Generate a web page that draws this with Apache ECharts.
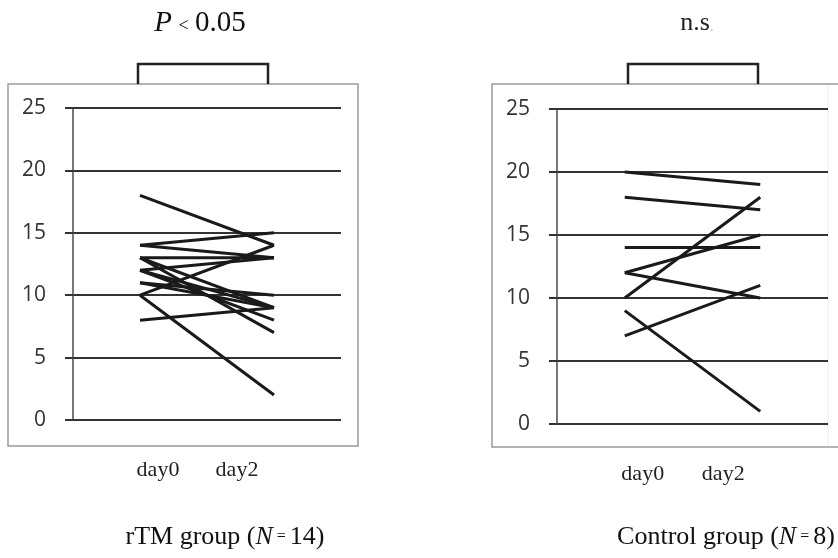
<!DOCTYPE html>
<html>
<head>
<meta charset="utf-8">
<script src="https://cdn.jsdelivr.net/npm/echarts@6/dist/echarts.min.js"></script>
<style>html,body{margin:0;padding:0;background:#fff}#c{width:838px;height:558px}</style>
</head>
<body>
<div id="c"></div>
<script>
// ---- data ----
const categories = ['day0', 'day2'];
const yTicks = [0, 5, 10, 15, 20, 25];
// rTM group (N = 14)
const rtmDay0 = [18, 14, 14, 13, 13, 13, 12, 12, 12, 11, 11, 10, 10, 8];
const rtmDay2 = [14, 15, 13, 13, 9, 7, 13, 9, 8, 10, 9, 14, 2, 9];
// Control group (N = 8)
const ctrlDay0 = [20, 18, 14, 12, 12, 10, 9, 7];
const ctrlDay2 = [19, 17, 14, 15, 10, 18, 1, 11];

const chart = echarts.init(document.getElementById('c'), null, {renderer: 'canvas'});

function yAxisCfg(gi) {
  return {
    type: 'value', gridIndex: gi, min: yTicks[0], max: yTicks[yTicks.length - 1], interval: 5,
    axisLine: {show: true, lineStyle: {color: '#4a4a4a', width: 1.5}},
    axisTick: {show: true, length: 8, lineStyle: {color: '#333', width: 2}},
    splitLine: {show: true, lineStyle: {color: '#333', width: 2}},
    axisLabel: {fontFamily: 'Open Sans', fontSize: 21, color: '#333', margin: 27}
  };
}
function xAxisCfg(gi) {
  return {
    type: 'category', gridIndex: gi, data: categories, boundaryGap: true,
    axisLine: {show: false}, axisTick: {show: false}, splitLine: {show: false},
    axisLabel: {
      margin: 39, interval: 0,
      formatter: (v, i) => (i === 0 ? '{a|' + v + '}' : '{b|' + v + '}'),
      rich: {
        a: {fontFamily: 'Liberation Serif', fontSize: 22, color: '#222', padding: [0, 0, 0, 36]},
        b: {fontFamily: 'Liberation Serif', fontSize: 22, color: '#222', padding: [0, 74, 0, 0]}
      }
    }
  };
}

const series = [];
rtmDay0.forEach((v, i) => series.push({
  type: 'line', xAxisIndex: 0, yAxisIndex: 0, data: [v, rtmDay2[i]],
  symbol: 'none', silent: true, lineStyle: {color: '#1a1a1a', width: 3}
}));
ctrlDay0.forEach((v, i) => series.push({
  type: 'line', xAxisIndex: 1, yAxisIndex: 1, data: [v, ctrlDay2[i]],
  symbol: 'none', silent: true, lineStyle: {color: '#1a1a1a', width: 3}
}));

const serif = 'Liberation Serif';
chart.setOption({
  animation: false,
  backgroundColor: '#fff',
  grid: [
    {left: 73, right: 497, top: 108, bottom: 138},
    {left: 557, right: 10, top: 109, bottom: 134}
  ],
  xAxis: [xAxisCfg(0), xAxisCfg(1)],
  yAxis: [yAxisCfg(0), yAxisCfg(1)],
  series: series,
  graphic: [
    {type: 'rect', z: -1, shape: {x: 8, y: 84, width: 350, height: 362}, style: {fill: 'none', stroke: '#9a9a9a', lineWidth: 1.5}},
    {type: 'rect', z: -1, shape: {x: 492, y: 84, width: 360, height: 363}, style: {fill: 'none', stroke: '#9a9a9a', lineWidth: 1.5}},
    {type: 'line', z: -1, shape: {x1: 828, y1: 85, x2: 828, y2: 446}, style: {stroke: '#ececec', lineWidth: 1}},
    {type: 'polyline', shape: {points: [[138, 84], [138, 64], [268, 64], [268, 84]]}, style: {fill: 'none', stroke: '#222', lineWidth: 2.5}},
    {type: 'polyline', shape: {points: [[628, 84], [628, 64], [758, 64], [758, 84]]}, style: {fill: 'none', stroke: '#222', lineWidth: 2.5}},
    {type: 'text', x: 200, y: 23, style: {
      text: '{i|P}{s| < }{n|0.05}', align: 'center', verticalAlign: 'middle',
      rich: {i: {fontFamily: serif, fontSize: 29, fontStyle: 'italic', fill: '#111'},
             s: {fontFamily: serif, fontSize: 18, fill: '#111', padding: [6, 2, 0, 2]},
             n: {fontFamily: serif, fontSize: 29, fill: '#111'}}
    }},
    {type: 'text', x: 697, y: 23, style: {
      text: '{n|n.s}{d|.}', align: 'center', verticalAlign: 'middle',
      rich: {n: {fontFamily: serif, fontSize: 26, fill: '#222'},
             d: {fontFamily: serif, fontSize: 16, fill: '#c8c8c8', padding: [8, 0, 0, 0]}}
    }},
    {type: 'text', x: 225, y: 537, style: {
      text: '{n|rTM group (}{i|N}{s| = }{n|14)}', align: 'center', verticalAlign: 'middle',
      rich: {n: {fontFamily: serif, fontSize: 26, fill: '#111'},
             i: {fontFamily: serif, fontSize: 26, fontStyle: 'italic', fill: '#111'},
             s: {fontFamily: serif, fontSize: 16, fill: '#111'}}
    }},
    {type: 'text', x: 726, y: 537, style: {
      text: '{n|Control group (}{i|N}{s| = }{n|8)}', align: 'center', verticalAlign: 'middle',
      rich: {n: {fontFamily: serif, fontSize: 26, fill: '#111'},
             i: {fontFamily: serif, fontSize: 26, fontStyle: 'italic', fill: '#111'},
             s: {fontFamily: serif, fontSize: 16, fill: '#111'}}
    }}
  ]
});
</script>
</body>
</html>
